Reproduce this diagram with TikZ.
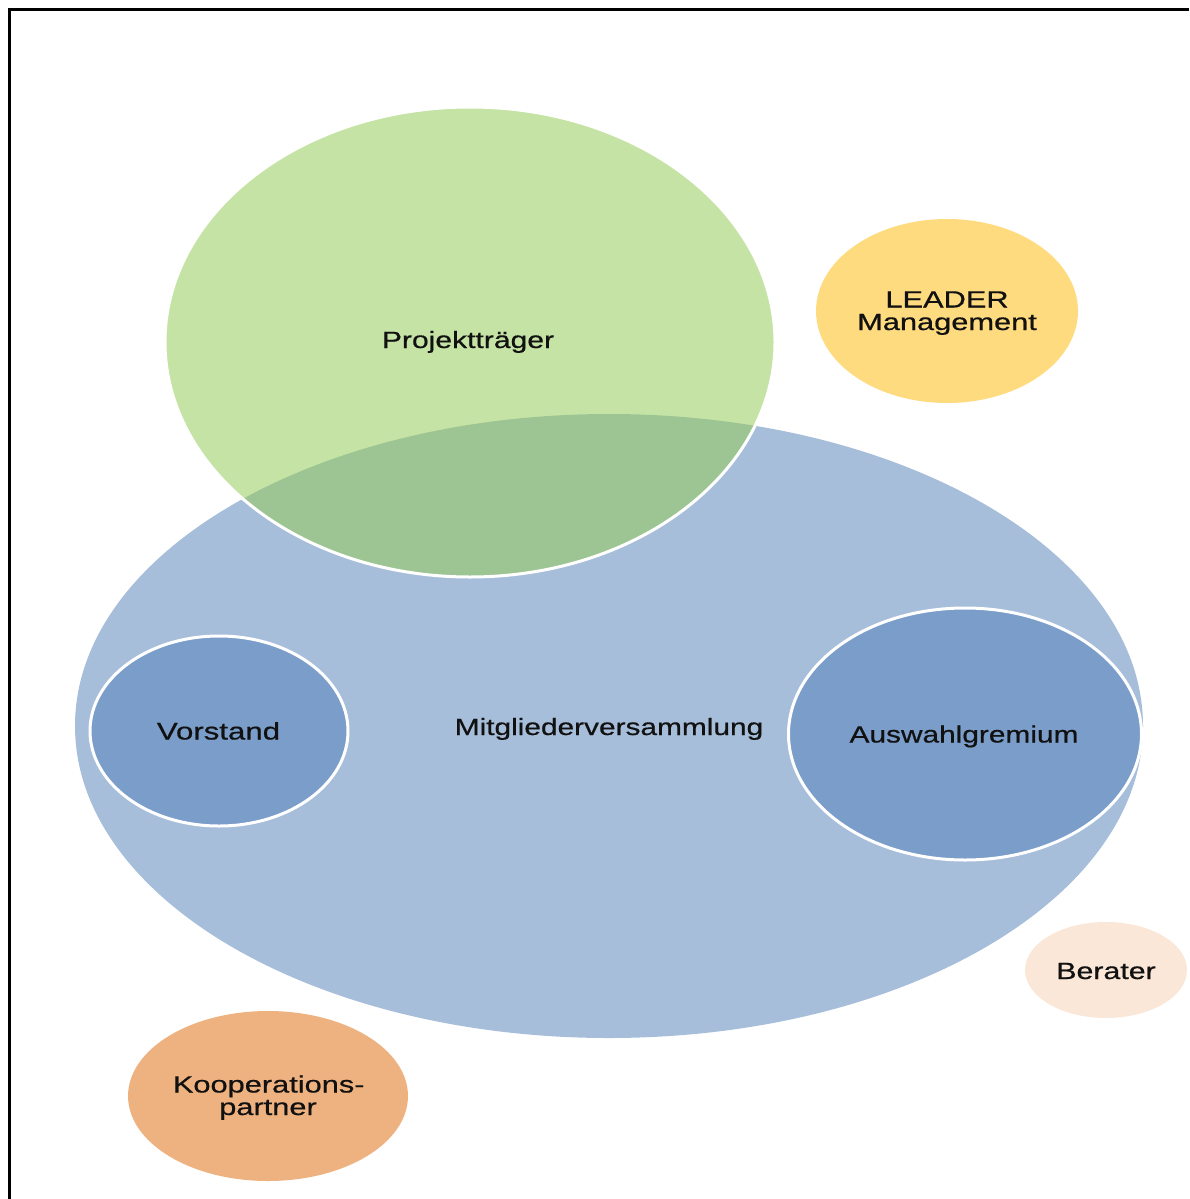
\documentclass[tikz,border=0pt]{standalone}
\usepackage{fontspec}
\setmainfont{Liberation Sans}[FakeBold=0.6]
\newfontfamily\lblfont{Liberation Sans}[FakeBold=0.5]
\usetikzlibrary{shapes.geometric}
\definecolor{bigblue}{RGB}{167,190,219}
\definecolor{innerblue}{RGB}{122,157,201}
\definecolor{projgreen}{RGB}{150,204,90}
\definecolor{leaderyellow}{RGB}{255,219,128}
\definecolor{kooporange}{RGB}{238,178,128}
\definecolor{beraterpeach}{RGB}{251,231,215}
\definecolor{txtcol}{RGB}{17,17,17}
\newcommand{\wlbl}[2]{\scalebox{#1}[1]{#2}}
\tikzset{
  ell/.style={ellipse, inner sep=0pt, outer sep=0pt},
  txt/.style={inner sep=0pt, text=txtcol, font=\lblfont\fontsize{23.5}{21}\selectfont, align=center},
  frameline/.style={line width=3pt, draw=black}
}
\begin{document}
\begin{tikzpicture}[x=1pt,y=-1pt]
\useasboundingbox (0,0) rectangle (1189,1199);
% frame
\coordinate (fbl) at (9,1199);
\coordinate (ftl) at (9,10);
\coordinate (ftr) at (1189,10);
\draw[frameline] (fbl) -- (ftl) -- (ftr);
% big blue
\node[ell, fill=bigblue, minimum width=1068pt, minimum height=624pt] (mv) at (609,726) {};
% green
\node[ell, fill=projgreen, fill opacity=0.55, draw=white, line width=3pt, minimum width=610pt, minimum height=470pt] (pt) at (470,342) {};
% inner blues
\node[ell, fill=innerblue, draw=white, line width=3pt, minimum width=258pt, minimum height=190pt] (vs) at (219,731) {};
\node[ell, fill=innerblue, draw=white, line width=3pt, minimum width=353pt, minimum height=252pt] (ag) at (965,734) {};
% others
\node[ell, fill=leaderyellow, minimum width=262pt, minimum height=184pt] (lm) at (947,311) {};
\node[ell, fill=beraterpeach, minimum width=162pt, minimum height=96pt] (be) at (1106,970) {};
\node[ell, fill=kooporange, minimum width=280pt, minimum height=170pt] (kp) at (268,1096) {};
% labels
\node[txt, anchor=base] (ptT) at (468,348) {\wlbl{1.28}{Projektträger}};
\node[txt, anchor=base] (mvT) at (609,735) {\wlbl{1.27}{Mitgliederversammlung}};
\node[txt, anchor=base, font=\lblfont\fontsize{24}{22}\selectfont] (vsT) at (218.5,739.5) {\wlbl{1.30}{Vorstand}};
\node[txt, anchor=base] (agT) at (964,742.5) {\wlbl{1.27}{Auswahlgremium}};
\node[txt, anchor=base] (beT) at (1106,979) {\wlbl{1.29}{Berater}};
\node[txt, anchor=base] (lmT1) at (947,307.5) {\wlbl{1.31}{LEADER}};
\node[txt, anchor=base] (lmT2) at (947,330) {\wlbl{1.31}{Management}};
\node[txt, anchor=base] (kpT1) at (268.7,1092.5) {\wlbl{1.31}{Kooperations-}};
\node[txt, anchor=base] (kpT2) at (268,1115) {\wlbl{1.31}{partner}};
\end{tikzpicture}
\end{document}
